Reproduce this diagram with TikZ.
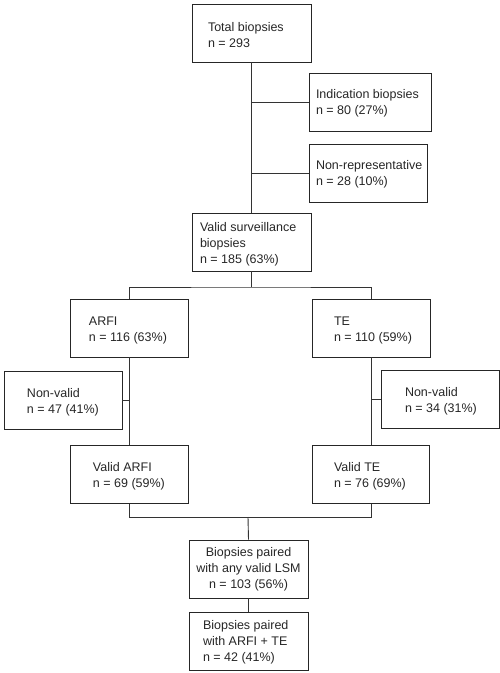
\documentclass[tikz,border=0pt]{standalone}
\usepackage{fontspec}
\setmainfont{Liberation Sans}
\newcommand\btxt[4][4]{\makebox[#2pt][l]{\hspace*{#3pt}\raisebox{0pt}[\height][\dimexpr\depth-#1pt\relax]{\begin{tabular}{@{}l@{}}#4\end{tabular}}}}
\begin{document}
\begin{tikzpicture}[x=1pt,y=-1pt,
  bx/.style={draw=black!85, line width=0.9pt, minimum height=58pt, inner ysep=0pt, inner xsep=0pt,
    minimum width=#1pt, font=\fontsize{12.5}{16}\selectfont, text=black!85},
  ln/.style={draw=black!80, line width=0.9pt}]
\useasboundingbox (0,0) rectangle (500,673);
\node[bx=119] (tot) at (251.5,33) {\btxt[7]{119}{16}{Total biopsies\\n = 293}};
\node[bx=122] (ind) at (370,102) {\btxt[3]{122}{7}{Indication biopsies\\n = 80 (27\%)}};
\node[bx=118] (nrep) at (368,173) {\btxt[3]{118}{7}{Non-representative\\n = 28 (10\%)}};
\node[bx=119] (vs) at (251.5,242) {\btxt{119}{8}{Valid surveillance\\biopsies\\n = 185 (63\%)}};
\node[bx=118] (arfi) at (129,328) {\btxt{118}{19}{ARFI\\n = 116 (63\%)}};
\node[bx=118] (te) at (371,328) {\btxt{118}{22}{TE\\n = 110 (59\%)}};
\node[bx=118] (nvl) at (63,400) {\btxt{118}{23}{Non-valid\\n = 47 (41\%)}};
\node[bx=118] (nvr) at (440,399.5) {\btxt{118}{24}{Non-valid\\n = 34 (31\%)}};
\node[bx=118] (varfi) at (129,474.5) {\btxt{118}{23}{Valid ARFI\\n = 69 (59\%)}};
\node[bx=117] (vte) at (370.5,474.5) {\btxt{117}{22}{Valid TE\\n = 76 (69\%)}};
\node[bx=119] (p1) at (248.5,569) {\makebox[119pt][c]{\begin{tabular}{@{}c@{}}Biopsies paired\\with any valid LSM\\n = 103 (56\%)\end{tabular}}};
\node[bx=119] (p2) at (248.5,641) {\btxt[2]{119}{14}{Biopsies paired\\with ARFI + TE\\n = 42 (41\%)}};
% trunk 1
\draw[ln] (tot.south) -- (vs.north);
\draw[ln] (ind.west) -- (tot.south |- ind.west);
\draw[ln] (nrep.west) -- (tot.south |- nrep.west);
% split
\coordinate (sp) at (251.5,287);
\draw[ln] (vs.south) -- (sp);
\draw[ln] (arfi.north) |- (sp) -| (te.north);
% ARFI branch
\draw[ln] (arfi.south) -- (varfi.north);
\draw[ln] (nvl.east) -- (arfi.south |- nvl.east);
% TE branch
\draw[ln] (te.south) -- (te.south |- vte.north);
\draw[ln] (nvr.west) -- (te.south |- nvr.west);
% merge
\coordinate (mg) at (248,517);
\draw[ln] (varfi.south) |- (mg);
\draw[ln] (te.south |- vte.south) |- (mg);
\draw[ln] (mg) -- (p1.north);
\draw[ln] (p1.south) -- (p2.north);
\end{tikzpicture}
\end{document}
